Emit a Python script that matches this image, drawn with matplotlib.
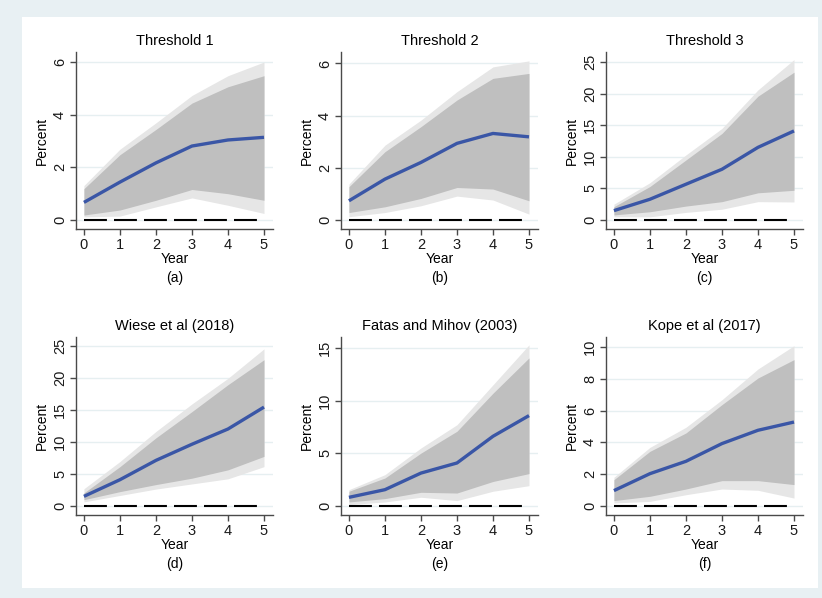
import numpy as np
import matplotlib.pyplot as plt
from matplotlib.patches import Rectangle

plt.rcParams['font.family'] = ['Liberation Sans', 'DejaVu Sans']

years = [0, 1, 2, 3, 4, 5]

titles = ["Threshold 1", "Threshold 2", "Threshold 3",
          "Wiese et al (2018)", "Fatas and Mihov (2003)", "Kope et al (2017)"]
letters = ["(a)", "(b)", "(c)", "(d)", "(e)", "(f)"]

# point estimate
mean_a = [0.67, 1.44, 2.17, 2.81, 3.04, 3.14]
mean_b = [0.74, 1.57, 2.21, 2.94, 3.32, 3.19]
mean_c = [1.48, 3.28, 5.66, 8.03, 11.5, 14.1]
mean_d = [1.46, 4.06, 7.08, 9.6, 11.98, 15.4]
mean_e = [0.79, 1.52, 3.1, 4.06, 6.6, 8.57]
mean_f = [0.95, 2.02, 2.8, 3.92, 4.76, 5.28]

# inner band (dark)
hi1_a = [1.19, 2.48, 3.44, 4.44, 5.06, 5.48]
lo1_a = [0.19, 0.38, 0.75, 1.16, 1.0, 0.75]
hi1_b = [1.28, 2.62, 3.58, 4.6, 5.43, 5.62]
lo1_b = [0.29, 0.51, 0.83, 1.25, 1.19, 0.74]
hi1_c = [2.1, 5.3, 9.5, 13.7, 19.6, 23.4]
lo1_c = [0.8, 1.3, 2.2, 2.9, 4.3, 4.7]
hi1_d = [2.0, 6.1, 10.6, 14.7, 18.9, 22.8]
lo1_d = [0.94, 2.2, 3.3, 4.3, 5.6, 7.7]
hi1_e = [1.37, 2.63, 5.0, 7.08, 10.7, 14.06]
lo1_e = [0.35, 0.67, 1.27, 1.2, 2.3, 3.05]
hi1_f = [1.64, 3.43, 4.59, 6.38, 8.06, 9.22]
lo1_f = [0.32, 0.59, 1.05, 1.58, 1.58, 1.33]

# outer band (light)
hi2_a = [1.31, 2.69, 3.69, 4.73, 5.48, 6.0]
lo2_a = [0.12, 0.15, 0.5, 0.84, 0.56, 0.25]
hi2_b = [1.38, 2.87, 3.83, 4.92, 5.87, 6.1]
lo2_b = [0.13, 0.29, 0.55, 0.92, 0.77, 0.23]
hi2_c = [2.5, 5.9, 10.3, 14.5, 20.6, 25.4]
lo2_c = [0.5, 0.5, 1.2, 1.7, 2.9, 2.85]
hi2_d = [2.65, 6.9, 11.6, 15.9, 19.9, 24.5]
lo2_d = [0.6, 1.6, 2.6, 3.4, 4.2, 6.1]
hi2_e = [1.52, 2.95, 5.49, 7.7, 11.5, 15.3]
lo2_e = [0.1, 0.35, 0.8, 0.48, 1.37, 1.9]
hi2_f = [1.79, 3.68, 4.95, 6.69, 8.63, 10.1]
lo2_f = [0.17, 0.27, 0.69, 1.05, 0.97, 0.48]

yticks = [[0, 2, 4, 6], [0, 2, 4, 6], [0, 5, 10, 15, 20, 25],
          [0, 5, 10, 15, 20, 25], [0, 5, 10, 15], [0, 2, 4, 6, 8, 10]]
ylims = [(-0.34, 6.38), (-0.34, 6.44), (-1.43, 26.6),
         (-1.45, 26.35), (-0.89, 16.05), (-0.59, 10.65)]

means = [mean_a, mean_b, mean_c, mean_d, mean_e, mean_f]
inner = [(lo1_a, hi1_a), (lo1_b, hi1_b), (lo1_c, hi1_c),
         (lo1_d, hi1_d), (lo1_e, hi1_e), (lo1_f, hi1_f)]
outer = [(lo2_a, hi2_a), (lo2_b, hi2_b), (lo2_c, hi2_c),
         (lo2_d, hi2_d), (lo2_e, hi2_e), (lo2_f, hi2_f)]

W, H = 822, 598
fig = plt.figure(figsize=(W / 100, H / 100), dpi=100, facecolor='#e8f0f3')
# white plot region inside the bluish frame
fig.patches.append(Rectangle((22 / W, 1 - 588 / H), (818 - 22) / W, (588 - 17) / H,
                             transform=fig.transFigure, facecolor='white',
                             edgecolor='none', zorder=-10))

lefts = [76, 341, 606]
rows = [(52, 229), (337, 515)]
axw = 197

for i in range(6):
    r, c = divmod(i, 3)
    top, bot = rows[r]
    ax = fig.add_axes([lefts[c] / W, 1 - bot / H, axw / W, (bot - top) / H])
    ax.set_facecolor('none')

    ax.fill_between(years, outer[i][0], outer[i][1], color='#e6e6e6', lw=0, zorder=1)
    ax.fill_between(years, inner[i][0], inner[i][1], color='#bfbfbf', lw=0, zorder=2)
    ax.plot(years, means[i], color='#3a56a6', lw=2.4, zorder=4, solid_capstyle='butt')
    ax.plot(years, [0] * len(years), color='black', lw=1.5, dashes=(11, 3.4), zorder=3)

    ax.set_xlim(-0.22, 5.25)
    ax.set_ylim(*ylims[i])
    ax.set_xticks(years)
    ax.set_yticks(yticks[i])
    ax.grid(axis='y', color='#e6eff1', lw=1.0, zorder=0)
    ax.set_axisbelow(True)

    for s in ['top', 'right']:
        ax.spines[s].set_visible(False)
    for s in ['left', 'bottom']:
        ax.spines[s].set_color('#4a4a4a')
        ax.spines[s].set_linewidth(1.0)
    ax.tick_params(colors='#4a4a4a', labelcolor='#1a1a1a', length=4.5, width=1.0,
                   labelsize=10.5, pad=2)
    for lab in ax.get_yticklabels():
        lab.set_rotation(90)
        lab.set_va('center')

    ax.set_title(titles[i], fontsize=10.5, pad=5)
    ax.set_ylabel("Percent", fontsize=10, labelpad=3)
    ax.set_xlabel("Year", fontsize=10, labelpad=0)
    ax.annotate(letters[i], xy=(0.5, 0), xycoords='axes fraction',
                xytext=(0, -30.5), textcoords='offset points',
                ha='center', va='top', fontsize=10)

fig.savefig("out.png", dpi=100, facecolor=fig.get_facecolor())
